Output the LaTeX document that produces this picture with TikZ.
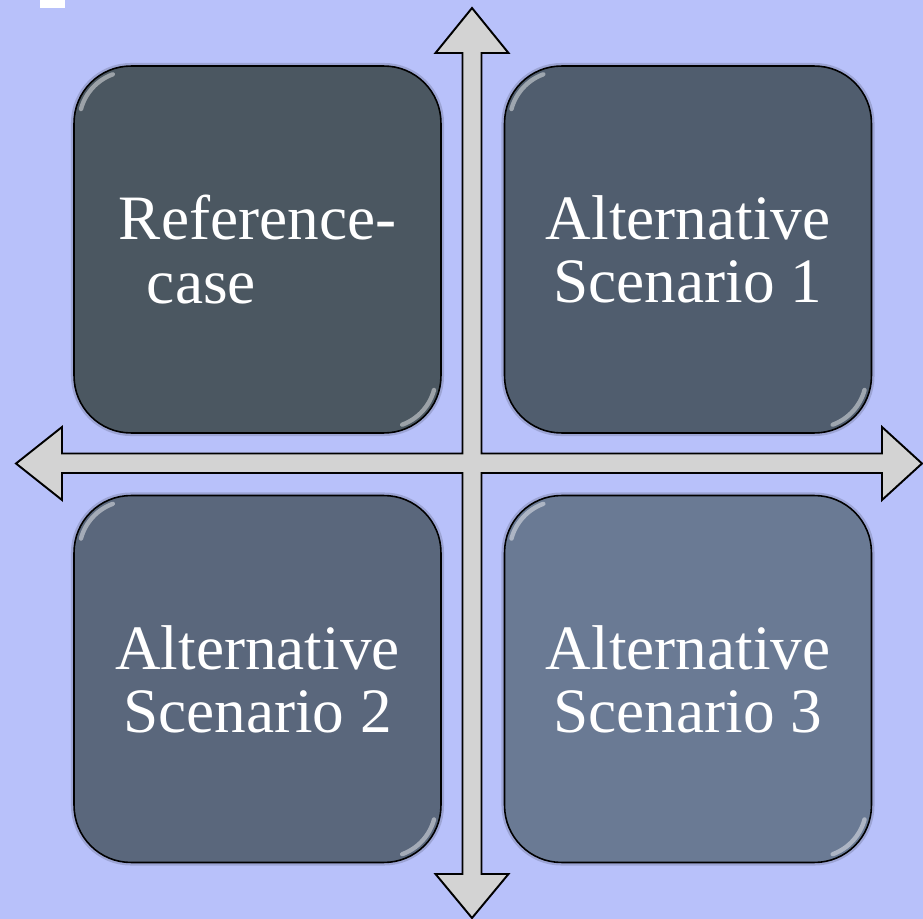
\documentclass[tikz,border=0pt]{standalone}
\usepackage{fontspec}
\setmainfont{Liberation Serif}
\usetikzlibrary{positioning}

\definecolor{bgblue}{RGB}{184,193,250}
\definecolor{arrowgrey}{RGB}{211,211,211}
\definecolor{slateA}{RGB}{75,87,97}
\definecolor{slateB}{RGB}{80,93,110}
\definecolor{slateC}{RGB}{90,103,124}
\definecolor{slateD}{RGB}{106,122,148}

% highlight on the upper left and lower right corner of a box
\newcommand{\glossy}[1]{%
  \draw[glint] ([shift={(1.14cm,-1.14cm)}]#1.north west) ++(110:1.02cm) arc[start angle=110, end angle=165, radius=1.02cm];
  \draw[glint] ([shift={(-1.14cm,1.14cm)}]#1.south east) ++(-70:1.02cm) arc[start angle=-70, end angle=-15, radius=1.02cm];
}

\begin{document}
\begin{tikzpicture}[x=0.02cm, y=-0.02cm,
    quad/.style={draw=black, line width=0.9pt, rounded corners=1.14cm,
      minimum width=7.34cm, minimum height=7.34cm, inner sep=0pt,
      text=white, font=\fontsize{36}{36}\selectfont, align=center,
      preaction={draw=black, opacity=0.15, line width=3.5pt}},
    glint/.style={white, opacity=0.45, line width=2.5pt, line cap=round},
    cross/.style={fill=arrowgrey, draw=black, line width=1.1pt, line join=miter}]
  \fill[bgblue] (0,0) rectangle (923,919);
  \fill[white] (40,0) rectangle (65,8);

  % the two crossing double arrows as one outline
  \draw[cross] (472,8) -- (508.5,53) -- (481.5,53) -- (481.5,453.5)
    -- (882,453.5) -- (882,427) -- (922,463.5) -- (882,500) -- (882,473)
    -- (481.5,473) -- (481.5,874) -- (508.5,874) -- (472,918) -- (435.5,874)
    -- (462.5,874) -- (462.5,473) -- (62,473) -- (62,500) -- (16,463.5)
    -- (62,427) -- (62,453.5) -- (462.5,453.5) -- (462.5,53) -- (435.5,53) -- cycle;

  \node[quad, fill=slateA, align=left] (ref) at (257.5,249.5) {Reference-\\\hspace*{16pt}case};
  \node[quad, fill=slateB, right=1.24cm of ref] (alt1) {Alternative\\Scenario 1};
  \node[quad, fill=slateC, below=1.22cm of ref] (alt2) {Alternative\\Scenario 2};
  \node[quad, fill=slateD, right=1.24cm of alt2] (alt3) {Alternative\\Scenario 3};

  \glossy{ref}
  \glossy{alt1}
  \glossy{alt2}
  \glossy{alt3}
\end{tikzpicture}
\end{document}
